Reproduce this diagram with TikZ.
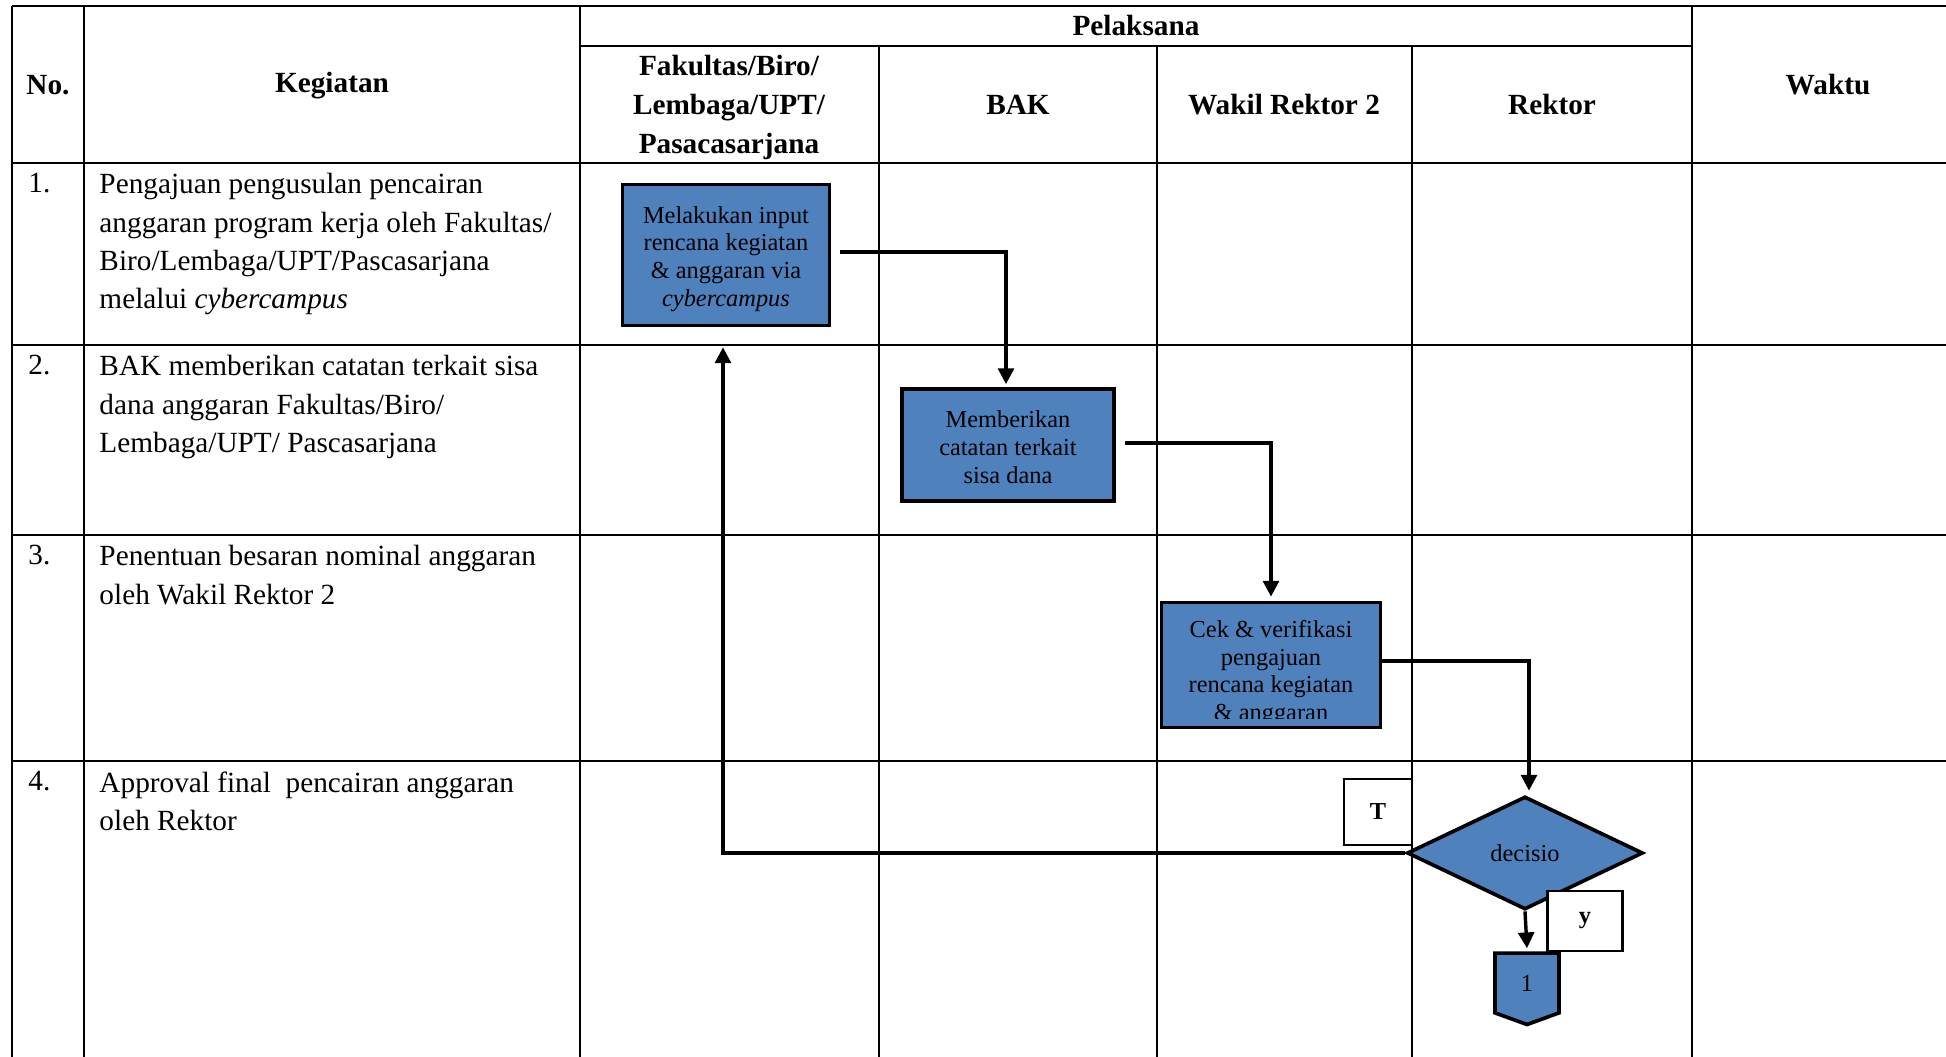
\documentclass[tikz,border=0pt]{standalone}
\usepackage{fontspec}
\setmainfont{Liberation Serif}
\usetikzlibrary{arrows.meta, shapes.geometric, shapes.symbols, calc}
\definecolor{flowblue}{HTML}{4F81BD}
\def\u{0.41pt}

\begin{document}
\begin{tikzpicture}[
    x=\u, y=-\u,
    rule/.style={line width=1pt},
    head/.style={font=\fontsize{12}{16}\selectfont\bfseries, align=center},
    task/.style={font=\fontsize{12}{15.7}\selectfont, align=left, anchor=north west, inner sep=0pt},
    boxtext/.style={font=\fontsize{10}{11.4}\selectfont, align=center, inner sep=0pt},
    proc/.style={boxtext, draw, line width=1.5pt, fill=flowblue},
    decision/.style={boxtext, diamond, aspect=2, draw, line width=1.5pt, fill=flowblue},
    offpage/.style={boxtext, signal, signal to=south, signal pointer angle=140, draw, line width=1.5pt, fill=flowblue},
    answer/.style={draw, line width=1pt, fill=white, inner sep=0pt, font=\fontsize{10}{12}\selectfont\bfseries},
    flow/.style={line width=1.4pt, -{Triangle[length=6.5pt, width=6.5pt]}},
  ]
  \useasboundingbox (0,0) rectangle (1946,1057);

  % --- table rules ---------------------------------------------------------
  \draw[rule] (12,6) -- (1950,6);
  \draw[rule] (580,46) -- (1692,46);
  \foreach \yy in {163, 345, 535, 761}
    \draw[rule] (12,\yy) -- (1950,\yy);
  \foreach \xx in {12, 84, 580, 1692}
    \draw[rule] (\xx,6) -- (\xx,1060);
  \foreach \xx in {879, 1157, 1412}
    \draw[rule] (\xx,46) -- (\xx,1060);

  % --- header cells ----------------------------------------------------------
  \node[head] (hno) at (48,85) {No.};
  \node[head] (hkeg) at (332,86) {Kegiatan};
  \node[head] (hpel) at (1136,26) {Pelaksana};
  \node[head] (hfak) at (729,107) {Fakultas/Biro/\\Lembaga/UPT/\\Pasacasarjana};
  \node[head] (hbak) at (1018,105) {BAK};
  \node[head] (hwr) at (1284,105) {Wakil Rektor 2};
  \node[head] (hrek) at (1552,105) {Rektor};
  \node[head] (hwaktu) at (1828,85) {Waktu};

  % --- numbered activities ---------------------------------------------------
  \foreach \n/\yy/\txt in {
      1/163/{Pengajuan pengusulan pencairan\\anggaran program kerja oleh Fakultas/\\Biro/Lembaga/UPT/Pascasarjana\\melalui \emph{cybercampus}},
      2/345/{BAK memberikan catatan terkait sisa\\dana anggaran Fakultas/Biro/\\Lembaga/UPT/ Pascasarjana},
      3/535/{Penentuan besaran nominal anggaran\\oleh Wakil Rektor 2},
      4/761/{Approval final\ \ pencairan anggaran\\oleh Rektor}} {
    \node[task] (num\n) at (28,\yy+10) {\n.};
    \node[task] (act\n) at (99,\yy+10) {\txt};
  }

  % --- flow steps ------------------------------------------------------------
  \node[proc, minimum width=207*\u, minimum height=141*\u] (input) at (726,255) {};
  \node[boxtext] (inputtext) at (726,259)
    {Melakukan input\\rencana kegiatan\\\& anggaran via\\\emph{cybercampus}};
  \node[proc, minimum width=212*\u, minimum height=112*\u] (catatan) at (1008,445) {};
  \node[boxtext] (catatantext) at (1008,447) {Memberikan\\catatan terkait\\sisa dana};
  \node[proc, minimum width=219*\u, minimum height=125*\u] (verif) at (1271,665) {};
  \begin{scope}
    \clip (verif.north west) rectangle ($(verif.south east)+(0,-11)$);
    \node[boxtext] (veriftext) at (1271,673)
      {Cek \& verifikasi\\pengajuan\\rencana kegiatan\\\& anggaran};
  \end{scope}
  \node[decision, minimum width=236*\u, minimum height=113*\u] (choice) at (1525,853) {decisio};
  \node[answer, minimum width=68*\u, minimum height=66*\u] (tlabel) at (1378,812) {T};
  \node[answer, minimum width=75*\u, minimum height=60*\u] (ylabel) at (1585,921) {y};
  \node[offpage, minimum width=64*\u, minimum height=62*\u] (next) at (1527,983) {1};

  % --- connectors ------------------------------------------------------------
  \draw[flow] ($(input.east)+(9,-3)$) -| ($(catatan.north)+(-2,-3)$);
  \draw[flow] ($(catatan.east)+(9,-2)$) -| ($(verif.north)+(0,-4)$);
  \draw[flow] ($(verif.east)+(0,-4)$) -| ($(choice.north)+(4,-4)$);
  \draw[flow] (choice.west) -| ($(input.south)+(-3,20)$);
  \draw[flow] (choice.south) -- ($(next.north)+(0,-3)$);

\end{tikzpicture}
\end{document}
